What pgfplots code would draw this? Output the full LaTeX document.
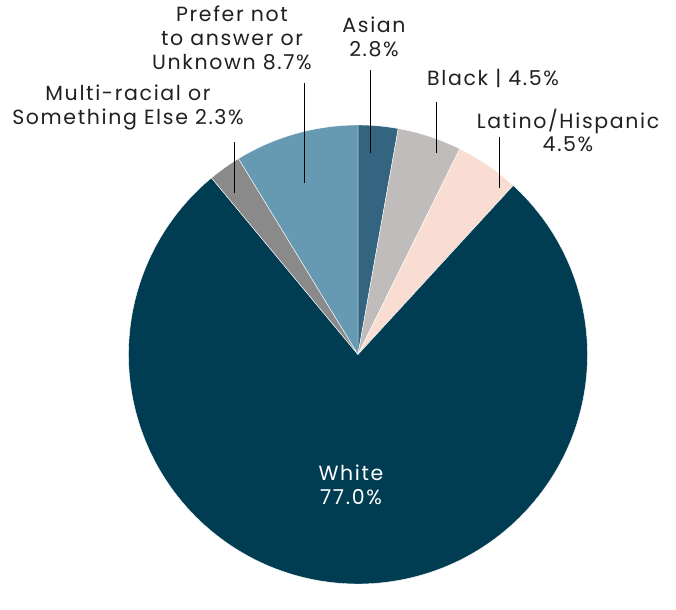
\documentclass[border=0pt]{standalone}
\usepackage{pgfplots}
\pgfplotsset{compat=1.18}
\usepackage{fontspec}
\setmainfont{Poppins}[LetterSpace=8]
\definecolor{cAsian}{HTML}{346580}
\definecolor{cBlack}{HTML}{C0BCBC}
\definecolor{cLatino}{HTML}{F9DDD2}
\definecolor{cWhite}{HTML}{003D52}
\definecolor{cMulti}{HTML}{8A8A8A}
\definecolor{cPrefer}{HTML}{669AB2}
\definecolor{txt}{HTML}{231F20}

% shares in percent, clockwise from the top
\def\vAsian{2.8}
\def\vBlack{4.5}
\def\vLatino{4.5}
\def\vWhite{77.0}
\def\vMulti{2.3}
\def\vPrefer{8.7}
\pgfmathsetmacro{\tot}{\vAsian+\vBlack+\vLatino+\vWhite+\vMulti+\vPrefer}
\pgfmathsetmacro{\k}{360/\tot}
\pgfmathsetmacro{\aA}{90}
\pgfmathsetmacro{\aB}{\aA-\vAsian*\k}
\pgfmathsetmacro{\aC}{\aB-\vBlack*\k}
\pgfmathsetmacro{\aD}{\aC-\vLatino*\k}
\pgfmathsetmacro{\aE}{\aD-\vWhite*\k}
\pgfmathsetmacro{\aF}{\aE-\vMulti*\k}
\pgfmathsetmacro{\aG}{\aF-\vPrefer*\k}

\def\cx{358}
\def\cy{230.5}
\def\r{229.5pt}

\newcommand{\slice}[3]{%
  \fill[#1, draw=white, line width=0.4pt] (axis cs:\cx,\cy) -- ++(#2:\r)
    arc[start angle=#2, end angle=#3, radius=\r] -- cycle;}

\begin{document}
\begin{tikzpicture}
\begin{axis}[hide axis, scale only axis, width=676pt, height=585pt,
  xmin=0, xmax=676, ymin=0, ymax=585, clip=false]
\path (axis cs:0,0) rectangle (axis cs:676,585);
\slice{cAsian}{\aA}{\aB}
\slice{cBlack}{\aB}{\aC}
\slice{cLatino}{\aC}{\aD}
\slice{cWhite}{\aD}{\aE}
\slice{cMulti}{\aE}{\aF}
\slice{cPrefer}{\aF}{\aG}

% leader lines
\draw[black, line width=0.8pt] (axis cs:304,502) -- (axis cs:304,402);
\draw[black, line width=0.8pt] (axis cs:234,443) -- (axis cs:234,392);
\draw[black, line width=0.8pt] (axis cs:370,515) -- (axis cs:370,432);
\draw[black, line width=0.8pt] (axis cs:436,483) -- (axis cs:436,432);
\draw[black, line width=0.8pt] (axis cs:499,448) -- (axis cs:499,397);

\begin{scope}[every node/.style={anchor=base, inner sep=0pt, text=txt, font=\fontsize{20.5}{22}\selectfont}]
\node at (axis cs:232,563) {Prefer not};
\node at (axis cs:232,539) {to answer or};
\node at (axis cs:232,515) {Unknown 8.7\%};
\node at (axis cs:128,485) {Multi-racial or};
\node at (axis cs:128,461) {Something Else 2.3\%};
\node at (axis cs:374,552) {Asian};
\node at (axis cs:374,528) {2.8\%};
\node at (axis cs:493,500) {Black | 4.5\%};
\node at (axis cs:568,457) {Latino/Hispanic};
\node at (axis cs:568,434) {4.5\%};
\node[text=white] at (axis cs:351,105) {White};
\node[text=white] at (axis cs:351,81) {77.0\%};
\end{scope}
\end{axis}
\end{tikzpicture}
\end{document}
